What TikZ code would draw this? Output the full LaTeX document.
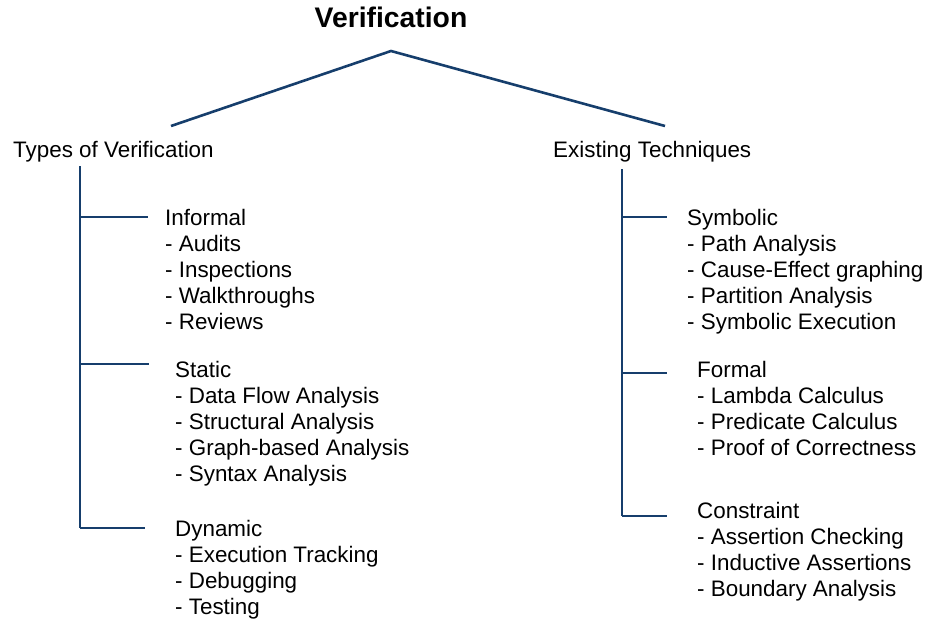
\documentclass[tikz,border=0pt]{standalone}
\usepackage{fontspec}
\setmainfont{Liberation Sans}
\definecolor{treeblue}{RGB}{22,62,108}
\begin{document}
\begin{tikzpicture}[x=1pt,y=1pt,
  branch/.style={draw=treeblue,line width=2.6pt},
  heading/.style={anchor=base west,inner sep=0pt,font=\fontsize{22.4}{26}\selectfont},
  itemlist/.style={anchor=base west,inner sep=0pt,font=\fontsize{22.4}{26}\selectfont},
  title/.style={anchor=base,inner sep=0pt,font=\fontsize{28.3}{34}\selectfont\bfseries}]
\useasboundingbox (0,0) rectangle (925,-619);

% Root
\node[title] (root) at (391,-27) {Verification};
\coordinate (apex) at (391,-51);
\coordinate (lefttip) at (171,-126);
\coordinate (righttip) at (665,-126);
\draw[branch,line join=miter] (lefttip) -- (apex) -- (righttip);

% Category headings
\node[heading] (types) at (13,-157) {Types of Verification};
\node[heading] (tech) at (553,-157) {Existing Techniques};

% Left column
\coordinate (ltop) at (80,-166);
\coordinate (lbot) at (80,-528);
\draw[branch] (ltop) -- (lbot);

\node[itemlist] (informal) at (165,-225) {\begin{tabular}[t]{@{}l@{}}Informal\\- Audits\\- Inspections\\- Walkthroughs\\- Reviews\end{tabular}};
\node[itemlist] (static) at (175,-377) {\begin{tabular}[t]{@{}l@{}}Static\\- Data Flow Analysis\\- Structural Analysis\\- Graph-based Analysis\\- Syntax Analysis\end{tabular}};
\node[itemlist] (dynamic) at (175,-536) {\begin{tabular}[t]{@{}l@{}}Dynamic\\- Execution Tracking\\- Debugging\\- Testing\end{tabular}};

\coordinate (linf) at (80,-217);
\coordinate (lsta) at (80,-364);
\draw[branch] (linf) -- (148,-217);
\draw[branch] (lsta) -- (149,-364);
\draw[branch] (lbot) -- (145,-528);

% Right column
\coordinate (rtop) at (622,-169);
\coordinate (rbot) at (622,-516);
\draw[branch] (rtop) -- (rbot);

\node[itemlist] (symbolic) at (687,-225) {\begin{tabular}[t]{@{}l@{}}Symbolic\\- Path Analysis\\- Cause-Effect graphing\\- Partition Analysis\\- Symbolic Execution\end{tabular}};
\node[itemlist] (formal) at (697,-377) {\begin{tabular}[t]{@{}l@{}}Formal\\- Lambda Calculus\\- Predicate Calculus\\- Proof of Correctness\end{tabular}};
\node[itemlist] (constraint) at (697,-518) {\begin{tabular}[t]{@{}l@{}}Constraint\\- Assertion Checking\\- Inductive Assertions\\- Boundary Analysis\end{tabular}};

\coordinate (rsym) at (622,-217);
\coordinate (rfor) at (622,-373);
\draw[branch] (rsym) -- (667,-217);
\draw[branch] (rfor) -- (667,-373);
\draw[branch] (rbot) -- (667,-516);
\end{tikzpicture}
\end{document}
